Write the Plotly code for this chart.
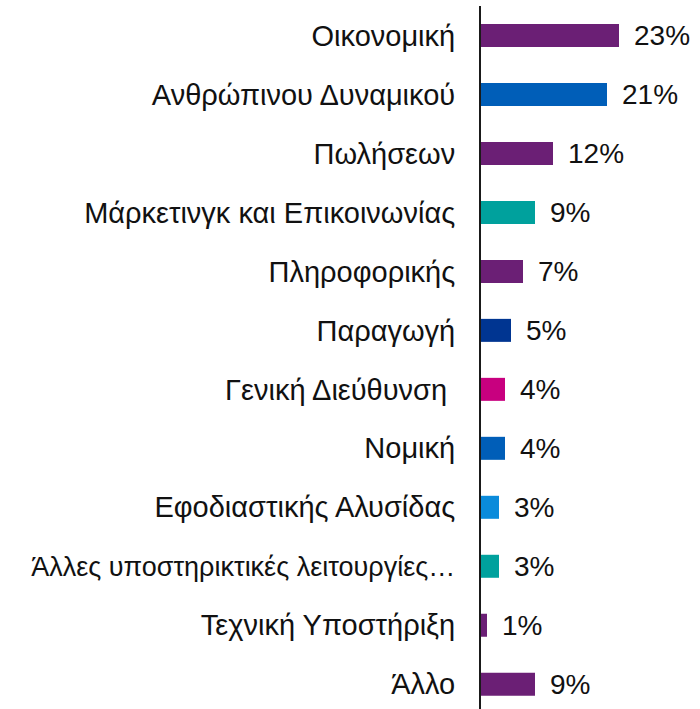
import plotly.graph_objects as go

categories = [
    "Οικονομική",
    "Ανθρώπινου Δυναμικού",
    "Πωλήσεων",
    "Μάρκετινγκ και Επικοινωνίας",
    "Πληροφορικής",
    "Παραγωγή",
    "Γενική Διεύθυνση ",
    "Νομική",
    "Εφοδιαστικής Αλυσίδας",
    "Άλλες υποστηρικτικές λειτουργίες…",
    "Τεχνική Υποστήριξη",
    "Άλλο",
]
values = [23, 21, 12, 9, 7, 5, 4, 4, 3, 3, 1, 9]
colors = [
    "#6B1F75", "#005EB8", "#6B1F75", "#00A19D", "#6B1F75", "#003591",
    "#C8007F", "#005EB8", "#0A8BDB", "#00A19D", "#6B1F75", "#6B1F75",
]

FONT = "Liberation Sans, Arial, sans-serif"

# the long truncated category is set slightly tighter so it fits the margin
tick_text = [
    f'<span style="font-size:27px">{c}</span>' if len(c) > 30 else c
    for c in categories
]

fig = go.Figure(
    go.Bar(
        y=categories,
        x=values,
        orientation="h",
        marker=dict(color=colors, line=dict(width=0)),
        width=0.39,
        hoverinfo="skip",
    )
)

for cat, val in zip(categories, values):
    fig.add_annotation(
        x=val, y=cat, text=f"{val}%", showarrow=False,
        xanchor="left", yanchor="middle", xshift=13,
        font=dict(family=FONT, size=28, color="#111111"),
    )

fig.update_layout(
    width=700, height=709,
    margin=dict(l=481, r=0, t=6, b=0),
    paper_bgcolor="white", plot_bgcolor="white",
    showlegend=False,
    font=dict(family=FONT, size=28, color="#111111"),
    xaxis=dict(range=[0, 36.5], visible=False, showgrid=False, zeroline=False),
    yaxis=dict(
        type="category",
        range=[11.42, -0.5],
        showline=True, linecolor="#1a1a1a", linewidth=2,
        showgrid=False, zeroline=False,
        ticks="", ticklabelstandoff=18,
        tickmode="array", tickvals=categories, ticktext=tick_text,
        tickfont=dict(family=FONT, size=29, color="#111111"),
    ),
)

fig.write_html("out.html")
